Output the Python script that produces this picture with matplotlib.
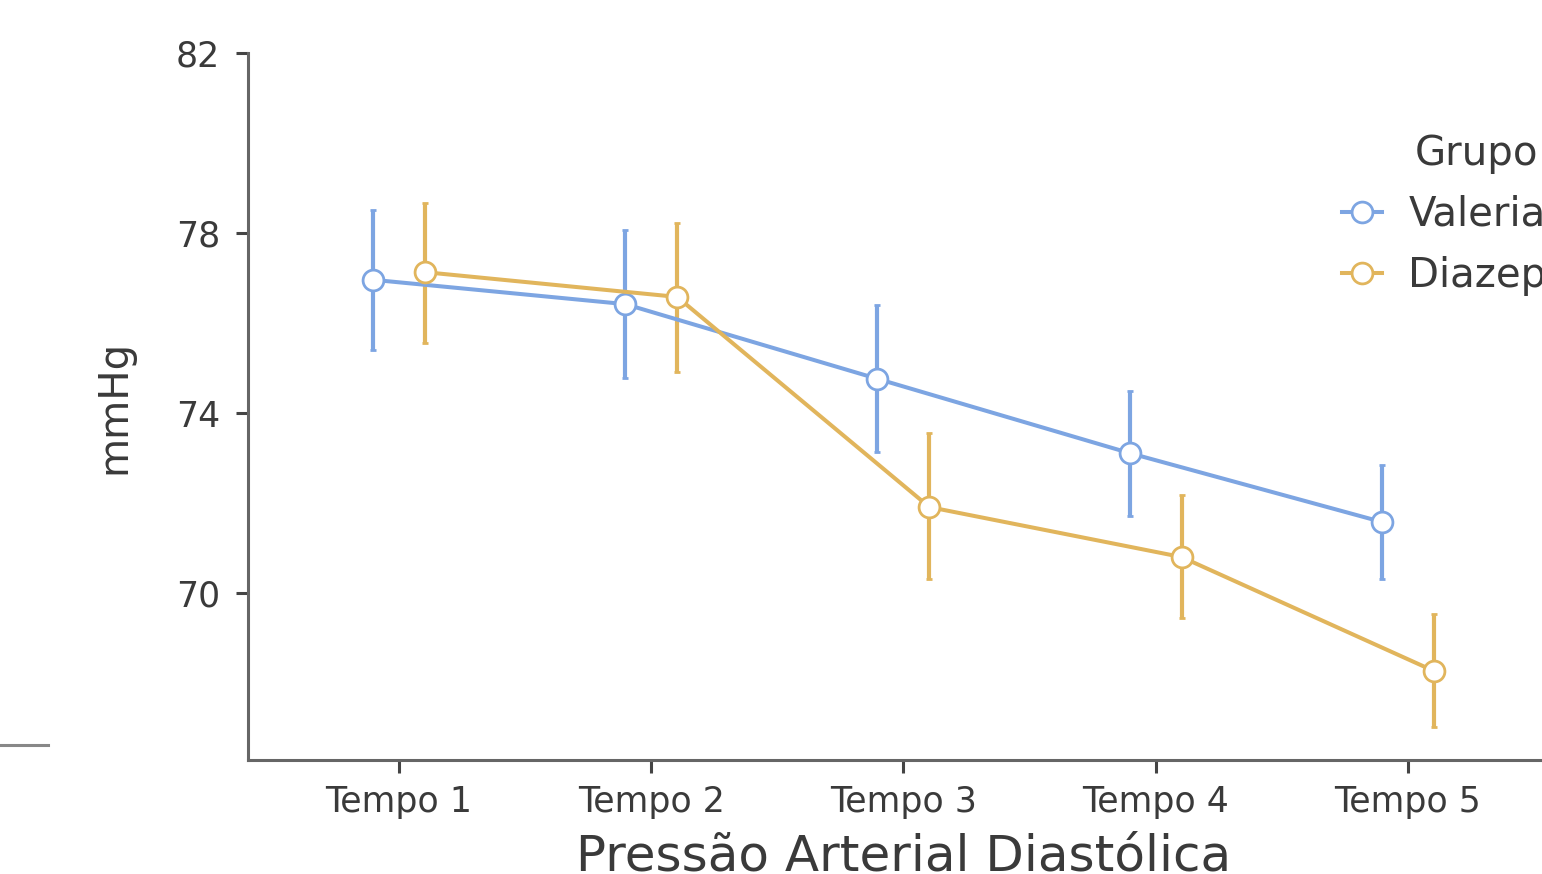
import matplotlib
matplotlib.use("Agg")
import matplotlib.pyplot as plt
from matplotlib.lines import Line2D
import numpy as np

plt.rcParams["font.family"] = ["DejaVu Sans"]

tempos = ["Tempo 1", "Tempo 2", "Tempo 3", "Tempo 4", "Tempo 5"]

valeriana_mean = [76.96, 76.42, 74.76, 73.11, 71.58]
valeriana_low = [75.40, 74.78, 73.13, 71.71, 70.31]
valeriana_high = [78.51, 78.07, 76.40, 74.49, 72.84]

diazepam_mean = [77.13, 76.58, 71.91, 70.80, 68.27]
diazepam_low = [75.56, 74.91, 70.31, 69.44, 67.02]
diazepam_high = [78.67, 78.22, 73.56, 72.18, 69.53]

blue = "#7da5e2"
orange = "#e1b55c"
grey = "#666666"
text_col = "#3a3a3a"

W, H = 1542, 874
fig = plt.figure(figsize=(W / 100, H / 100), dpi=100)
ax = fig.add_axes([248 / W, 1 - 760 / H, 1311 / W, (760 - 53) / H])

x = np.arange(len(tempos))
dodge = 0.103

series = [
    ("Valeriana", valeriana_mean, valeriana_low, valeriana_high, blue, -dodge),
    ("Diazepam", diazepam_mean, diazepam_low, diazepam_high, orange, dodge),
]
handles = []
for name, m, lo, hi, col, off in series:
    m = np.array(m)
    yerr = [m - np.array(lo), np.array(hi) - m]
    ax.errorbar(x + off, m, yerr=yerr, fmt="o-", color=col, lw=2.9,
                elinewidth=3.0, capsize=2, capthick=3.0,
                markersize=15, markerfacecolor="white",
                markeredgecolor=col, markeredgewidth=2)
    handles.append(Line2D([], [], color=col, lw=2.9, marker="o", markersize=15,
                          markerfacecolor="white", markeredgecolor=col,
                          markeredgewidth=2, label=name))

ax.set_xlim(-0.599, 4.6)
ax.set_ylim(66.29, 82)
ax.set_xticks(x)
ax.set_xticklabels(tempos)
ax.set_yticks([70, 74, 78, 82])

for s in ["top", "right"]:
    ax.spines[s].set_visible(False)
for s in ["left", "bottom"]:
    ax.spines[s].set_color(grey)
    ax.spines[s].set_linewidth(2.2)

ax.tick_params(axis="both", length=9, width=2.2, color="#444444",
               labelcolor=text_col)
ax.tick_params(axis="x", labelsize=25, pad=9)
ax.tick_params(axis="y", labelsize=25, pad=11)

ax.set_xlabel("Pressão Arterial Diastólica", fontsize=36, color=text_col, labelpad=10)
ax.set_ylabel("mmHg", fontsize=29, color=text_col, labelpad=30)

leg = ax.legend(handles=handles, title="Grupo", loc="upper left",
                bbox_to_anchor=(1342 / W, 1 - 134 / H),
                bbox_transform=fig.transFigure, frameon=False, fontsize=29,
                title_fontsize=29, handlelength=1.0, handletextpad=0.65,
                labelspacing=0.52, borderpad=0, borderaxespad=0)
for t in leg.get_texts():
    t.set_color(text_col)
leg.get_title().set_color(text_col)

# small stray rule at lower left of the original image
fig.add_artist(Line2D([0, 48 / W], [1 - 745 / H, 1 - 745 / H], color="#888888", lw=2.2))

fig.savefig("out.png", dpi=100)
